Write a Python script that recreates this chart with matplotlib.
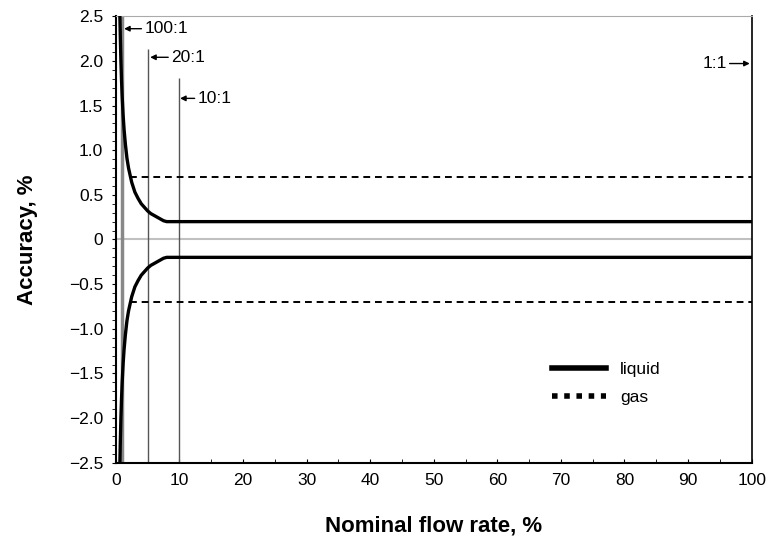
import matplotlib
matplotlib.use('Agg')
import matplotlib.pyplot as plt
from matplotlib.lines import Line2D
from matplotlib.ticker import MultipleLocator, FixedLocator

plt.rcParams['font.family'] = ['Liberation Sans', 'DejaVu Sans']

############### data
# liquid accuracy envelope (upper half, lower half is its mirror)
liquid_x = [0.64, 0.7, 0.8, 0.9, 1.0, 1.15, 1.3, 1.5, 1.75, 2.0, 2.5, 3.0, 3.5, 4.0, 4.5, 5.0, 5.5, 6.0, 6.5, 7.0, 7.5, 8.0, 100.0]
liquid_y = [2.5, 2.29, 2.0, 1.78, 1.6, 1.39, 1.23, 1.07, 0.91, 0.8, 0.64, 0.53, 0.46, 0.4, 0.36, 0.32, 0.29, 0.27, 0.25, 0.23, 0.21, 0.2, 0.2]
gas_x = [2.3, 100.0]
gas_y = [0.7, 0.7]

# turndown markers
turndown_x = [1, 5, 10]
turndown_top = [2.5, 2.13, 1.81]
turndown_labels = ['100:1', '20:1', '10:1']
turndown_label_y = [2.36, 2.04, 1.58]
turndown_arrow_x = [1.3, 5.4, 10.1]
turndown_offset = [14.5, 15, 12.5]  # points from arrow tip to text

xticks = [0, 10, 20, 30, 40, 50, 60, 70, 80, 90, 100]
yticks = [-2.5, -2.0, -1.5, -1.0, -0.5, 0, 0.5, 1.0, 1.5, 2.0, 2.5]
ytick_labels = ['\u22122.5', '\u22122.0', '\u22121.5', '\u22121.0', '\u22120.5', '0',
                '0.5', '1.0', '1.5', '2.0', '2.5']

############### plotting
fig = plt.figure(figsize=(7.67, 5.4), dpi=100)
ax = fig.add_axes([0.151, 0.143, 0.829, 0.827])

ax.axhline(0, color='#c0c0c0', lw=1.5, zorder=1)

# turndown lines
ax.vlines(turndown_x[0], -2.5, turndown_top[0], color='#888888', lw=2.5, zorder=2)
ax.vlines(turndown_x[1:], -2.5, turndown_top[1:], color='#555555', lw=1.0, zorder=2)

arrow = dict(arrowstyle='-|>', color='black', lw=1.0, mutation_scale=8, shrinkA=0, shrinkB=0)
for x, y, lab, off in zip(turndown_arrow_x, turndown_label_y, turndown_labels, turndown_offset):
    ax.annotate(lab, xy=(x, y), xytext=(off, 0), textcoords='offset points',
                fontsize=12.5, va='center', ha='left', arrowprops=arrow)
ax.annotate('1:1', xy=(99.7, 1.97), xytext=(-16.5, 0), textcoords='offset points',
            fontsize=12.5, va='center', ha='right', arrowprops=arrow)

ax.plot(liquid_x, liquid_y, color='black', lw=2.4, zorder=3)
ax.plot(liquid_x, [-v for v in liquid_y], color='black', lw=2.4, zorder=3)
ax.plot(gas_x, gas_y, color='black', lw=1.4, ls=(0, (3.5, 2.5)), zorder=3)
ax.plot(gas_x, [-v for v in gas_y], color='black', lw=1.4, ls=(0, (3.5, 2.5)), zorder=3)

ax.set_xlim(0, 100)
ax.set_ylim(-2.5, 2.5)
ax.set_xticks(xticks)
ax.xaxis.set_minor_locator(MultipleLocator(5))
ax.yaxis.set_major_locator(FixedLocator(yticks))
ax.set_yticklabels(ytick_labels)
ax.yaxis.set_minor_locator(MultipleLocator(0.1))
ax.tick_params(axis='x', which='both', direction='in', length=3, labelsize=12.5, pad=7)
ax.tick_params(axis='y', which='both', direction='out', length=3, labelsize=12.5, pad=6)

ax.spines['top'].set_color('#aaaaaa')
ax.spines['left'].set_linewidth(1.5)
ax.spines['bottom'].set_linewidth(1.5)
ax.spines['right'].set_linewidth(1.2)

ax.set_xlabel('Nominal flow rate, %', fontsize=16, fontweight='bold', labelpad=20)
ax.set_ylabel('Accuracy, %', fontsize=16, fontweight='bold', labelpad=22)

handles = [Line2D([], [], color='black', lw=4),
           Line2D([], [], color='black', lw=4, ls=(0, (1, 1.2)))]
ax.legend(handles, ['liquid', 'gas'], loc='center left', bbox_to_anchor=(0.662, 0.178),
          frameon=False, fontsize=12.5, handlelength=3.1, handletextpad=0.8, labelspacing=0.75)

fig.savefig('out.png', dpi=100)
